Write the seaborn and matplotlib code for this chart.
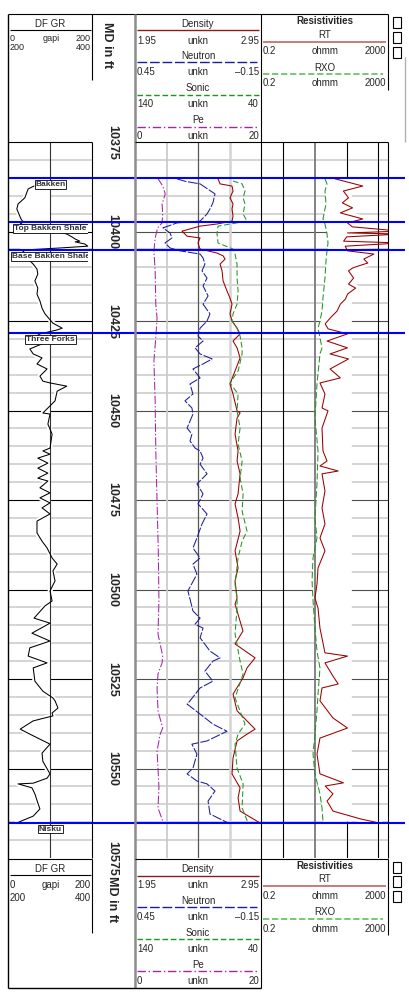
import numpy as np
import matplotlib
matplotlib.use("Agg")
import matplotlib.pyplot as plt
import seaborn as sns

sns.set_style("white")
plt.rcParams["font.family"] = ["Liberation Sans", "DejaVu Sans"]
plt.rcParams["lines.scale_dashes"] = False

W, H = 409, 993
TOP_Y, BOT_Y = 142, 858          # pixel rows of the 10375 ft and 10575 ft lines
D_TOP, D_BOT = 10375, 10575

# ---------------- curve data (depth in ft MD) ----------------
gr_depth = [10387.3, 10388.1, 10390.6, 10392.3, 10393.7, 10395.1, 10396.5, 10397.3, 10397.9, 10399.3,
            10400.7, 10401.5, 10402.1, 10402.7, 10402.9, 10403.5, 10404.1, 10404.6, 10405.2, 10406.0,
            10407.7, 10409.1, 10410.5, 10411.9, 10413.8, 10415.8, 10417.5, 10419.4, 10421.4, 10423.0,
            10425.6, 10427.0, 10427.5, 10428.6, 10430.0, 10431.4, 10432.8, 10434.2, 10435.3, 10437.0,
            10438.4, 10440.4, 10441.8, 10442.3, 10443.2, 10444.6, 10447.3, 10450.7, 10451.0, 10453.8,
            10456.6, 10460.5, 10461.3, 10462.2, 10463.3, 10464.7, 10466.1, 10467.5, 10468.9, 10469.7,
            10471.6, 10473.0, 10474.4, 10475.8, 10477.2, 10478.9, 10480.9, 10484.2, 10486.5, 10488.4,
            10491.2, 10492.9, 10494.8, 10497.6, 10500.4, 10503.2, 10504.6, 10508.0, 10509.4, 10512.2,
            10514.4, 10516.3, 10518.6, 10520.5, 10521.9, 10525.6, 10528.4, 10530.3, 10531.1, 10533.1,
            10534.5, 10535.3, 10536.7, 10539.0, 10540.4, 10543.2, 10545.7, 10548.0, 10551.5, 10552.7,
            10554.1, 10554.3, 10555.4, 10557.1, 10559.6, 10561.3, 10563.3, 10565.2]
gr = [62, 48, 40, 24, 21, 26, 31, 36, 29, 88,
      140, 152, 160, 171, 160, 183, 190, 124, 33, 40,
      48, 60, 69, 71, 64, 71, 69, 76, 81, 88,
      107, 129, 117, 76, 57, 81, 52, 60, 81, 69,
      93, 76, 83, 100, 140, 117, 112, 83, 100, 95,
      105, 100, 83, 100, 71, 95, 71, 95, 71, 95,
      76, 100, 76, 100, 81, 100, 69, 69, 81, 93,
      105, 117, 107, 112, 100, 105, 88, 62, 100, 57,
      100, 52, 48, 93, 60, 64, 83, 107, 112, 119,
      105, 107, 60, 29, 52, 100, 81, 83, 100, 93,
      60, 24, 57, 64, 71, 76, 60, 21]

pe_depth = [10385.1, 10387.3, 10389.5, 10392.3, 10395.1, 10397.6, 10399.0, 10401.8, 10405.4, 10411.0,
            10420.3, 10424.2, 10429.7, 10436.2, 10447.3, 10461.3, 10475.3, 10489.2, 10503.2, 10512.4,
            10518.6, 10520.5, 10523.6, 10527.5, 10533.9, 10538.7, 10540.4, 10545.1, 10549.9, 10555.4,
            10561.0, 10564.7, 10565.4]
pe = [3.6, 4.4, 4.8, 4.3, 4.4, 4.3, 3.6, 3.2, 3.0, 3.2,
      3.3, 3.5, 3.3, 3.0, 3.2, 3.3, 3.5, 3.7, 3.8, 3.65,
      4.4, 4.3, 3.65, 3.5, 3.65, 4.4, 4.0, 3.5, 3.65, 3.8,
      3.65, 4.4, 4.8]

nphi_depth = [10385.3, 10386.0, 10386.7, 10389.5, 10392.0, 10393.7, 10395.1, 10397.1, 10397.6, 10399.0,
              10400.4, 10401.8, 10403.2, 10404.6, 10405.4, 10406.3, 10407.4, 10409.1, 10411.0, 10413.0,
              10415.2, 10418.0, 10420.3, 10423.0, 10425.0, 10427.0, 10429.2, 10430.6, 10432.5, 10434.2,
              10435.6, 10437.0, 10438.4, 10440.9, 10442.6, 10445.4, 10447.3, 10449.3, 10451.0, 10454.9,
              10456.6, 10458.5, 10460.5, 10461.3, 10463.3, 10465.0, 10467.7, 10470.5, 10473.3, 10476.1,
              10478.9, 10481.7, 10485.6, 10488.4, 10491.2, 10492.9, 10495.7, 10500.4, 10502.7, 10506.0,
              10508.0, 10509.7, 10510.8, 10513.5, 10517.2, 10519.1, 10520.0, 10522.8, 10525.6, 10527.5,
              10531.1, 10532.0, 10534.8, 10537.6, 10539.6, 10542.3, 10543.2, 10546.0, 10549.9, 10551.5,
              10553.5, 10554.3, 10556.3, 10559.1, 10562.7, 10565.2]
nphi = [0.25, 0.21, 0.14, 0.069, 0.079, 0.093, 0.107, 0.14, 0.25, 0.317,
        0.283, 0.274, 0.307, 0.283, 0.236, 0.14, 0.126, 0.117, 0.131, 0.107,
        0.126, 0.102, 0.126, 0.093, 0.107, 0.14, 0.15, 0.126, 0.164, 0.14,
        0.083, 0.126, 0.174, 0.14, 0.188, 0.174, 0.212, 0.179, 0.174, 0.202,
        0.179, 0.188, 0.164, 0.14, 0.126, 0.14, 0.107, 0.155, 0.126, 0.15,
        0.107, 0.131, 0.155, 0.174, 0.14, 0.174, 0.155, 0.198, 0.188, 0.174,
        0.14, 0.164, 0.126, 0.14, 0.093, 0.045, 0.079, 0.117, 0.079, 0.14,
        0.188, 0.202, 0.14, 0.079, 0.012, 0.107, 0.179, 0.155, 0.174, 0.202,
        0.155, 0.107, 0.069, 0.102, 0.093, 0.007]

rhob_depth = [10385.3, 10386.7, 10387.3, 10388.7, 10390.6, 10392.3, 10393.7, 10395.7, 10397.1, 10397.9,
              10398.5, 10399.9, 10401.3, 10401.8, 10403.2, 10404.9, 10406.0, 10406.8, 10407.7, 10409.1,
              10411.0, 10413.8, 10416.6, 10418.6, 10420.3, 10423.0, 10425.0, 10427.0, 10428.6, 10430.6,
              10432.5, 10435.3, 10442.6, 10445.4, 10450.1, 10450.7, 10452.1, 10456.6, 10461.3, 10464.1,
              10467.7, 10473.3, 10476.1, 10480.0, 10483.7, 10489.2, 10494.0, 10497.6, 10502.4, 10504.1,
              10511.6, 10515.2, 10519.1, 10521.9, 10524.7, 10529.2, 10533.9, 10539.0, 10540.4, 10542.3,
              10547.1, 10551.5, 10555.4, 10558.2, 10561.9, 10565.2]
rhob = [2.609, 2.625, 2.72, 2.728, 2.704, 2.728, 2.72, 2.728, 2.72, 2.601,
        2.466, 2.323, 2.363, 2.466, 2.45, 2.466, 2.6, 2.649, 2.665, 2.625,
        2.641, 2.649, 2.68, 2.704, 2.72, 2.704, 2.72, 2.76, 2.784, 2.728,
        2.76, 2.784, 2.704, 2.728, 2.76, 2.784, 2.76, 2.744, 2.768, 2.76,
        2.784, 2.768, 2.744, 2.768, 2.784, 2.744, 2.768, 2.744, 2.76, 2.744,
        2.807, 2.744, 2.903, 2.839, 2.807, 2.728, 2.76, 2.903, 2.839, 2.76,
        2.728, 2.72, 2.784, 2.768, 2.784, 2.942]

dt_depth = [10385.9, 10386.7, 10388.7, 10390.6, 10392.3, 10395.1, 10397.1, 10398.5, 10400.7, 10403.2,
            10404.9, 10406.3, 10409.1, 10413.0, 10416.6, 10420.3, 10423.0, 10425.0, 10427.0, 10429.2,
            10432.5, 10434.2, 10439.0, 10442.3, 10445.4, 10450.1, 10454.9, 10459.4, 10464.1, 10468.9,
            10473.3, 10478.1, 10483.7, 10486.5, 10491.2, 10498.5, 10502.4, 10505.2, 10512.4, 10520.0,
            10523.6, 10530.3, 10537.6, 10540.4, 10543.2, 10549.9, 10554.3, 10561.0, 10565.2]
dt = [62.2, 55.0, 52.7, 54.2, 52.7, 54.2, 51.1, 74.1, 74.9, 74.1,
      62.2, 60.6, 59.0, 59.0, 58.2, 59.0, 62.2, 63.0, 59.0, 56.6,
      55.0, 55.0, 58.2, 64.6, 58.2, 59.0, 56.6, 58.2, 55.0, 56.6,
      54.2, 55.0, 51.1, 55.0, 58.2, 60.6, 59.0, 59.0, 60.6, 56.6,
      54.2, 60.6, 52.7, 58.2, 60.6, 59.0, 54.2, 55.0, 50.3]

rxo_depth = [10385.3, 10386.7, 10388.7, 10392.3, 10396.5, 10397.9, 10400.7, 10403.2, 10405.4, 10408.2,
             10413.0, 10418.6, 10422.2, 10425.0, 10427.0, 10429.7, 10432.5, 10434.2, 10442.6, 10452.1,
             10461.3, 10470.5, 10480.0, 10485.6, 10491.2, 10497.6, 10503.2, 10510.8, 10517.2, 10521.9,
             10529.2, 10533.9, 10540.4, 10546.0, 10551.5, 10557.1, 10561.0, 10564.7]
rxo = [20.7, 24, 20.7, 22.3, 17.9, 20.7, 24, 25.8, 24, 22.3,
       20.7, 17.9, 16.7, 14.4, 12.5, 14.4, 16.7, 14.4, 11.6, 10.0,
       12.5, 11.6, 10.0, 11.6, 8.7, 8.1, 8.7, 10.0, 11.6, 14.4,
       12.5, 11.6, 10.0, 8.7, 10.0, 14.4, 16.7, 17.9]

rt_depth = [10385.3, 10387.3, 10388.7, 10390.6, 10392.0, 10393.4, 10394.8, 10396.5, 10397.6, 10398.7,
            10399.9, 10400.4, 10400.7, 10401.5, 10402.7, 10403.2, 10404.1, 10405.4, 10406.3, 10407.7,
            10408.8, 10409.6, 10410.2, 10411.0, 10413.0, 10414.7, 10415.8, 10417.5, 10418.9, 10420.3,
            10422.2, 10424.2, 10425.8, 10427.2, 10428.6, 10430.6, 10432.5, 10434.2, 10435.6, 10438.4,
            10440.9, 10442.3, 10445.4, 10449.3, 10450.1, 10454.9, 10461.3, 10464.1, 10465.5, 10466.9,
            10467.7, 10472.5, 10477.2, 10481.7, 10485.6, 10489.2, 10494.0, 10498.5, 10502.4, 10505.2,
            10510.8, 10517.7, 10518.6, 10520.5, 10524.2, 10526.4, 10527.5, 10531.1, 10535.9, 10538.7,
            10541.5, 10546.0, 10551.5, 10554.0, 10554.9, 10557.1, 10559.1, 10561.9, 10564.1, 10565.2]
rt = [43.5, 321, 78.6, 114, 73, 153, 63, 321, 106, 150,
      5000, 106, 5000, 100, 80, 5000, 90, 106, 718, 346,
      463, 239, 153, 114, 165, 114, 191, 106, 91, 63,
      50, 30, 21, 26, 106, 24, 106, 30, 114, 30,
      63, 14.4, 20.7, 16.7, 25.8, 16.7, 17.9, 24, 14.4, 54,
      16.7, 20.7, 16.7, 20.7, 14.4, 20.7, 12.5, 11.6, 10, 12.5,
      14.4, 20.7, 106, 20.7, 37, 54, 16.7, 14.4, 37, 106,
      14.4, 11.6, 14.4, 79, 21, 37, 24, 37, 277, 1040]

tops_name = ["Bakken", "Top Bakken Shale", "Base Bakken Shale", "Three Forks", "Nisku"]
tops_depth = [10385.1, 10397.4, 10405.2, 10428.4, 10565.2]

# ---------------- figure ----------------
fig = plt.figure(figsize=(W / 100, H / 100), dpi=100)
fig.patch.set_facecolor("white")


def track(x0, x1, z=1):
    ax = fig.add_axes([x0 / W, 1 - BOT_Y / H, (x1 - x0) / W, (BOT_Y - TOP_Y) / H], zorder=z)
    ax.set_facecolor("none")
    for s in ax.spines.values():
        s.set_visible(False)
    return ax


def clean(ax):
    ax.set_xticks([])
    ax.set_xticks([], minor=True)
    ax.set_yticks([])
    ax.set_yticks([], minor=True)
    ax.set_xlabel("")
    ax.set_ylabel("")
    for s in ax.spines.values():
        s.set_visible(False)
    ax.set_ylim(D_BOT, D_TOP)


def depth_grid(ax, major_color):
    for d in range(D_TOP + 5, D_BOT, 5):
        if d % 25 == 0:
            ax.axhline(d, color=major_color, lw=0.8, zorder=1.2)
        else:
            ax.axhline(d, color="#cdcdcd", lw=1.2, zorder=1)


def curve(ax, x, y, color, dashes=None, lw=0.75):
    sns.lineplot(x=x, y=y, orient="y", sort=False, estimator=None,
                 color=color, linewidth=lw, ax=ax, zorder=4)
    if dashes:
        ax.lines[-1].set_dashes(dashes)


# GR track
ax_gr = track(8, 92)
ax_gr.set_xlim(0, 200)
depth_grid(ax_gr, "black")
gr_a = np.array(gr)
ax_gr.fill_betweenx(gr_depth, gr_a, 100, where=gr_a < 100, interpolate=True,
                    color="white", lw=0, zorder=2)
ax_gr.plot(gr, gr_depth, color="white", lw=3.5, zorder=2.1)
ax_gr.axvline(100, color="#333333", lw=0.8, zorder=3)
curve(ax_gr, gr, gr_depth, "black")
ax_gr.set_xlim(0, 200)

# depth track
ax_md = track(92, 135)
ax_md.set_xlim(0, 1)
for d in range(D_TOP, D_BOT + 1, 25):
    ax_md.text(0.465, d, str(d), rotation=270, ha="center", va="center",
               fontsize=9, fontweight="bold", clip_on=False)

# porosity / density track
ax_den = track(135, 261)
depth_grid(ax_den, "#4d4d4d")
for v, c, w in [(2.2, "#cccccc", 1.3), (2.45, "#555555", 0.9), (2.7, "#d4d4d4", 1.8)]:
    ax_den.axvline(v, color=c, lw=w, zorder=1.5)
ax_neu = ax_den.twiny()
ax_son = ax_den.twiny()
ax_pe = ax_den.twiny()
curve(ax_pe, pe, pe_depth, "#a326a3", dashes=[6, 1.5, 1, 1.5])
curve(ax_neu, nphi, nphi_depth, "#1c1ca0", dashes=[7, 1.2])
curve(ax_son, dt, dt_depth, "#1e961e", dashes=[4, 2])
curve(ax_den, rhob, rhob_depth, "#990000")
ax_den.set_xlim(1.95, 2.95)
ax_neu.set_xlim(0.45, -0.15)
ax_son.set_xlim(140, 40)
ax_pe.set_xlim(0, 20)

# resistivity track
ax_res = track(261, 388)
ax_res.set_xscale("log")
depth_grid(ax_res, "#4d4d4d")
ax_res.axvline(100, color="black", lw=0.8, zorder=1.5)
ax_res.fill_betweenx(rxo_depth, rxo, 140, color="white", lw=0, zorder=2)
ax_res.plot(rt, rt_depth, color="white", lw=5, zorder=2.1)
for v, c, w in [(1, "black", 0.8), (10, "#7a7a7a", 1.3), (1000, "black", 0.8)]:
    ax_res.axvline(v, color=c, lw=w, zorder=3)
curve(ax_res, rxo, rxo_depth, "#1e961e", dashes=[4.5, 2])
curve(ax_res, rt, rt_depth, "#990000")
ax_res.set_xlim(0.2, 2000)

for a in [ax_gr, ax_md, ax_den, ax_neu, ax_son, ax_pe, ax_res]:
    clean(a)

# formation tops
ax_tops = track(8, 405, z=5)
ax_tops.set_xlim(0, 1)
for d in tops_depth:
    ax_tops.axhline(d, color="#0000ff", lw=1.5)
ax_lab = track(8, 88, z=6)
ax_lab.set_xlim(8, 88)
for name, d in zip(tops_name, tops_depth):
    ax_lab.text(50.5, d + 1.7, name, ha="center", va="center", fontsize=6,
                fontweight="bold", color="#333333", clip_on=True,
                bbox=dict(boxstyle="square,pad=0.1", fc="white", ec="black", lw=0.6))
clean(ax_tops)
clean(ax_lab)

# ---------------- frame and headers (pixel coordinates) ----------------
fr = fig.add_axes([0, 0, 1, 1], zorder=8)
fr.set_xlim(0, W)
fr.set_ylim(H, 0)
fr.axis("off")
fr.patch.set_alpha(0)


def seg(x0, y0, x1, y1, color="black", lw=0.8, dashes=None):
    ln, = fr.plot([x0, x1], [y0, y1], color=color, lw=lw, solid_capstyle="butt")
    if dashes:
        ln.set_dashes(dashes)


def txt(x, y, s, ha="center", bold=False, size=7):
    fr.text(x, y, s, ha=ha, va="center", fontsize=size,
            fontweight="bold" if bold else "normal")


def row(y, left, mid, right, x0, xm, x1, size=7):
    fr.text(x0, y, left, ha="left", va="center", fontsize=size)
    if mid:
        fr.text(xm, y, mid, ha="center", va="center", fontsize=size)
    fr.text(x1, y, right, ha="right", va="center", fontsize=size)


def header(g, dn, rs, sq, md_x, md_y, gsize):
    # GR
    txt(50, g[0], "DF GR")
    seg(10, g[1], 91, g[1])
    row(g[2], "0", "gapi", "200", 10, 51, 90.5, size=gsize)
    row(g[3], "200", "", "400", 10, 51, 90.5, size=gsize)
    # depth
    fr.text(md_x, md_y, "MD in ft", rotation=270, ha="center", va="top",
            fontsize=9, fontweight="bold")
    # porosity / density
    txt(198, dn[0], "Density")
    seg(137, dn[1], 259, dn[1], color="#8b1a1a", lw=1.0)
    row(dn[2], "1.95", "unkn", "2.95", 137, 198, 259)
    txt(198, dn[3], "Neutron")
    seg(137, dn[4], 257, dn[4], color="#1c1ca0", lw=1.0, dashes=[7, 2])
    row(dn[5], "0.45", "unkn", "\u20130.15", 137, 198, 259)
    txt(198, dn[6], "Sonic")
    seg(137, dn[7], 259, dn[7], color="#1e961e", lw=1.0, dashes=[4, 2])
    row(dn[8], "140", "unkn", "40", 137, 198, 259)
    txt(198, dn[9], "Pe")
    seg(137, dn[10], 259, dn[10], color="#a326a3", lw=1.0, dashes=[6, 2, 1, 2])
    row(dn[11], "0", "unkn", "20", 137, 198, 259)
    # resistivity
    txt(325, rs[0], "Resistivities", bold=True)
    txt(325, rs[1], "RT")
    seg(263, rs[2], 386, rs[2], color="#c06565", lw=1.2)
    row(rs[3], "0.2", "ohmm", "2000", 263, 325, 386)
    txt(325, rs[4], "RXO")
    seg(263, rs[5], 383, rs[5], color="#5fbf5f", lw=1.2, dashes=[4.5, 2])
    row(rs[6], "0.2", "ohmm", "2000", 263, 325, 386)
    for y0 in sq:
        fr.add_patch(plt.Rectangle((392.5, y0), 8, 10.5, fc="white", ec="black", lw=0.8))


header([24, 30, 38.5, 48],
       [24, 30, 41, 56, 62, 72, 88, 95, 104, 120, 127, 136],
       [21, 35, 42, 51, 68, 74, 83],
       [17, 32, 47], 107, 22, 6.5)
header([869, 875, 885, 898],
       [869, 876, 885, 901, 907, 917, 933, 939, 949, 965, 971, 981],
       [866, 879, 886, 896, 912, 919, 929],
       [862, 876, 891], 112, 875.5, 7)

# box lines
seg(8, 14, 388, 14)
seg(8, 14, 8, 988, lw=1.0)
seg(92, 14, 92, 80)
seg(135, 14, 135, 988, color="#8c8c8c", lw=1.8)
seg(261, 14, 261, 988)
seg(388, 14, 388, 90)
seg(405, 57, 405, 142, color="#b0b0b0", lw=1.0)
seg(8, TOP_Y, 92, TOP_Y)
seg(135, TOP_Y, 388, TOP_Y)
seg(92, TOP_Y, 92, BOT_Y)
seg(388, TOP_Y, 388, BOT_Y)
seg(8, 859, 92, 859)
seg(135, 859, 388, 859)
seg(92, 859, 92, 933)
seg(388, 859, 388, 935)
seg(8, 988, 261, 988, lw=1.0)

fig.savefig("out.png", dpi=100, facecolor="white")
